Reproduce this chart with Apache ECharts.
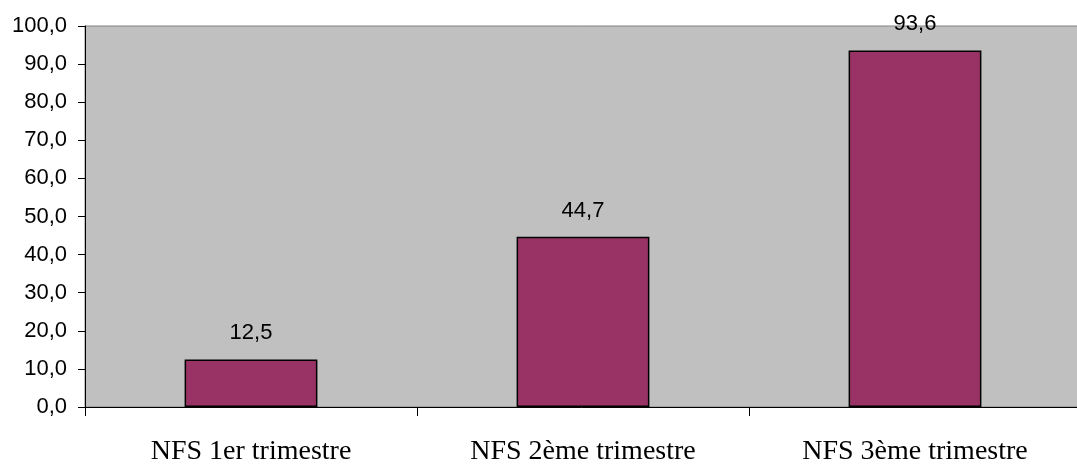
<!DOCTYPE html>
<html>
<head>
<meta charset="utf-8">
<script src="https://cdn.jsdelivr.net/npm/echarts@6/dist/echarts.min.js"></script>
<style>
html,body{margin:0;padding:0;background:#fff;}
#chart{width:1077px;height:464px;}
</style>
</head>
<body>
<div id="chart"></div>
<script>
const categories = ["NFS 1er trimestre", "NFS 2ème trimestre", "NFS 3ème trimestre"];
const values = [12.5, 44.7, 93.6];

function fmt(v){ return Number(v).toFixed(1).replace('.', ','); }

const chart = echarts.init(document.getElementById('chart'));
chart.setOption({
  animation: false,
  backgroundColor: '#ffffff',
  grid: {
    left: 85, top: 26, bottom: 57, width: 996,
    show: true, backgroundColor: '#C0C0C0', borderColor: '#808080', borderWidth: 1,
    containLabel: false,
    outerBoundsMode: 'none'
  },
  xAxis: {
    type: 'category',
    data: categories,
    axisLine: { show: true, lineStyle: { color: '#000', width: 1 } },
    axisTick: { show: true, length: 9, alignWithLabel: false, lineStyle: { color: '#000' } },
    axisLabel: {
      color: '#000', fontFamily: 'Liberation Serif', fontSize: 28, margin: 31
    },
    splitLine: { show: false }
  },
  yAxis: {
    type: 'value',
    min: 0, max: 100, interval: 10,
    axisLine: { show: true, lineStyle: { color: '#000', width: 1 } },
    axisTick: { show: true, length: 7, lineStyle: { color: '#000' } },
    axisLabel: {
      color: '#000', fontFamily: 'Liberation Sans', fontSize: 22, margin: 18,
      formatter: fmt
    },
    splitLine: { show: false }
  },
  series: [{
    type: 'bar',
    data: values,
    barWidth: '40%',
    itemStyle: { color: '#993366', borderColor: '#000', borderWidth: 1.5 },
    label: {
      show: true, position: 'top', distance: 15,
      color: '#000', fontFamily: 'Liberation Sans', fontSize: 22,
      formatter: p => fmt(p.value)
    }
  }]
});
</script>
</body>
</html>
